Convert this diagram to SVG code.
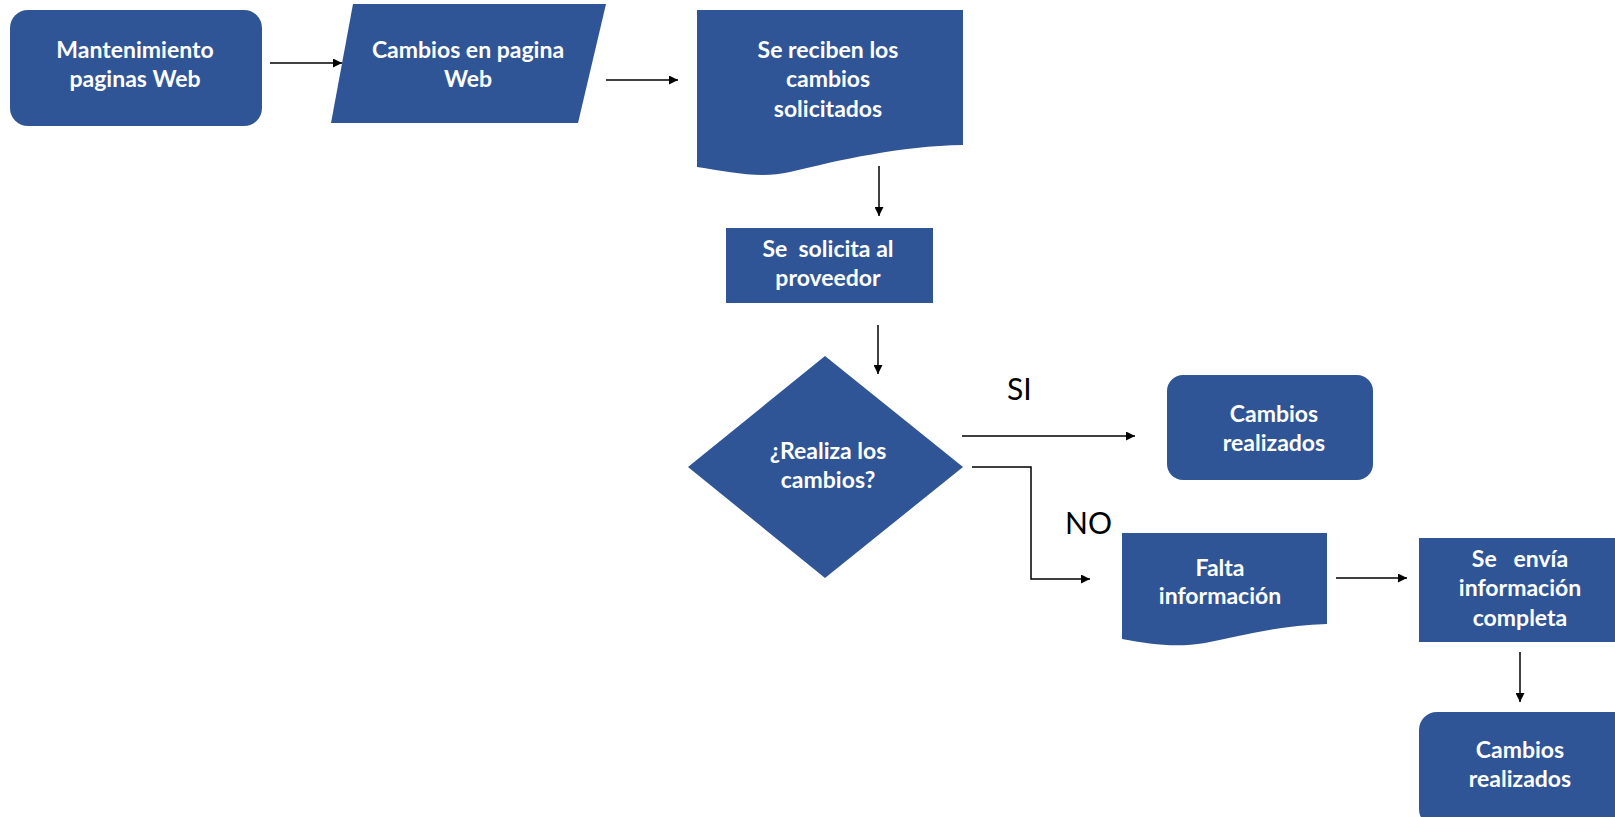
<svg xmlns="http://www.w3.org/2000/svg" width="1615" height="817" viewBox="0 0 1615 817">
<defs>
<style>
.n{fill:#2F5597;}
.t{fill:#fff;font-family:Lato,"Open Sans","Liberation Sans",sans-serif;font-weight:bold;font-size:23px;text-anchor:middle;}
.l{fill:#000;font-family:Lato,"Open Sans","Liberation Sans",sans-serif;font-size:30px;}
.c{fill:none;stroke:#000;stroke-width:1.5;}
</style>
<marker id="ah" viewBox="0 0 10 10" refX="10" refY="5" markerWidth="9" markerHeight="9" markerUnits="userSpaceOnUse" orient="auto">
<path d="M0,0 L10,5 L0,10 Z" fill="#000"/>
</marker>
</defs>
<rect width="1615" height="817" fill="#fff"/>
<g id="connectors">
<line class="c" x1="270" y1="63" x2="342" y2="63" marker-end="url(#ah)"/>
<line class="c" x1="606" y1="80" x2="678" y2="80" marker-end="url(#ah)"/>
<line class="c" x1="879" y1="166" x2="879" y2="216" marker-end="url(#ah)"/>
<line class="c" x1="878" y1="325" x2="878" y2="374" marker-end="url(#ah)"/>
<line class="c" x1="962" y1="436" x2="1135" y2="436" marker-end="url(#ah)"/>
<polyline class="c" points="972,467 1031,467 1031,579 1090,579" marker-end="url(#ah)"/>
<line class="c" x1="1336" y1="578" x2="1407" y2="578" marker-end="url(#ah)"/>
<line class="c" x1="1520" y1="652" x2="1520" y2="702" marker-end="url(#ah)"/>
<text class="l" x="1007" y="400">SI</text>
<text class="l" x="1065" y="534">NO</text>
</g>
<g id="n1">
<rect class="n" x="10" y="10" width="252" height="116" rx="18"/>
<text class="t" x="135" y="58">Mantenimiento</text>
<text class="t" x="135" y="87">paginas Web</text>
</g>
<g id="n2">
<polygon class="n" points="353,4 606,4 578,123 331,123"/>
<text class="t" x="468" y="58">Cambios en pagina</text>
<text class="t" x="468" y="87">Web</text>
</g>
<g id="n3">
<path class="n" d="M697,10 L963,10 L963,145 C900,146 840,160 790,172 C760,179 730,172 697,167 Z"/>
<text class="t" x="828" y="58">Se reciben los</text>
<text class="t" x="828" y="87">cambios</text>
<text class="t" x="828" y="117">solicitados</text>
</g>
<g id="n4">
<rect class="n" x="726" y="228" width="207" height="75"/>
<text class="t" x="828" y="257" xml:space="preserve">Se  solicita al</text>
<text class="t" x="828" y="286">proveedor</text>
</g>
<g id="n5">
<polygon class="n" points="825,356 963,467 825,578 688,467"/>
<text class="t" x="828" y="459">¿Realiza los</text>
<text class="t" x="828" y="488">cambios?</text>
</g>
<g id="n6">
<rect class="n" x="1167" y="375" width="206" height="105" rx="16"/>
<text class="t" x="1274" y="422">Cambios</text>
<text class="t" x="1274" y="451">realizados</text>
</g>
<g id="n7">
<path class="n" d="M1122,533 L1327,533 L1327,624 C1280,625 1240,636 1205,643 C1175,648 1150,644 1122,639 Z"/>
<text class="t" x="1220" y="576">Falta</text>
<text class="t" x="1220" y="604">información</text>
</g>
<g id="n8">
<rect class="n" x="1419" y="538" width="200" height="104"/>
<text class="t" x="1520" y="567" xml:space="preserve">Se   envía</text>
<text class="t" x="1520" y="596">información</text>
<text class="t" x="1520" y="626">completa</text>
</g>
<g id="n9">
<rect class="n" x="1419" y="712" width="215" height="115" rx="18"/>
<text class="t" x="1520" y="758">Cambios</text>
<text class="t" x="1520" y="787">realizados</text>
</g>
</svg>
